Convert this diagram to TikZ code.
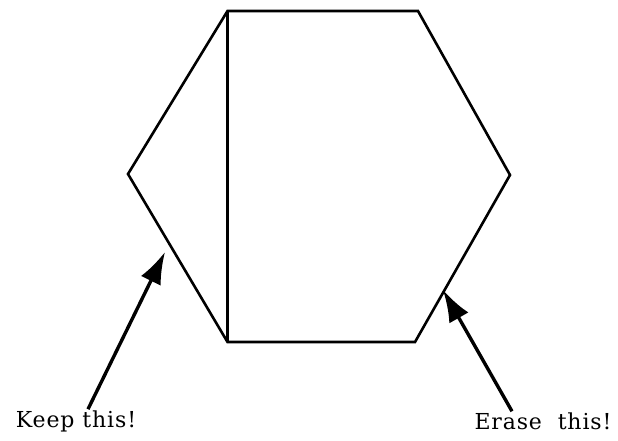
\documentclass[tikz,border=0pt]{standalone}
\usepackage{fontspec}
\usepackage{tikz}
\usetikzlibrary{arrows.meta,positioning}
\newfontfamily\notefont[LetterSpace=4]{DejaVu Serif}

\begin{document}
\begin{tikzpicture}[x=1pt,y=-1pt,
  hexline/.style={line width=2.6pt,line join=miter},
  note/.style={font=\notefont\fontsize{22}{26}\selectfont,inner sep=1pt},
  arr/.style={-{Latex[length=32pt,width=22pt]},line width=3.4pt}]
  \useasboundingbox (0,0) rectangle (618,440);
  % hexagon corners
  \coordinate (tl) at (227.5,11);
  \coordinate (tr) at (418,11);
  \coordinate (rt) at (510,175);
  \coordinate (br) at (415,342);
  \coordinate (bl) at (227.5,342);
  \coordinate (lf) at (128,174);
  \draw[hexline] (tl) -- (tr) -- (rt) -- (br) -- (bl) -- (lf) -- cycle;
  \draw[hexline] (tl) -- (bl);
  % labels and pointers
  \coordinate (ktip) at (165,252);
  \coordinate (etip) at (443,290);
  \node[note] (keep) at (76,421) {Keep this!};
  \node[note] (erase) at (543,421) {Erase\ \ this!};
  \draw[arr] ([xshift=12pt]keep.north) -- (ktip);
  \draw[arr] ([xshift=-31pt]erase.north) -- (etip);
\end{tikzpicture}
\end{document}
